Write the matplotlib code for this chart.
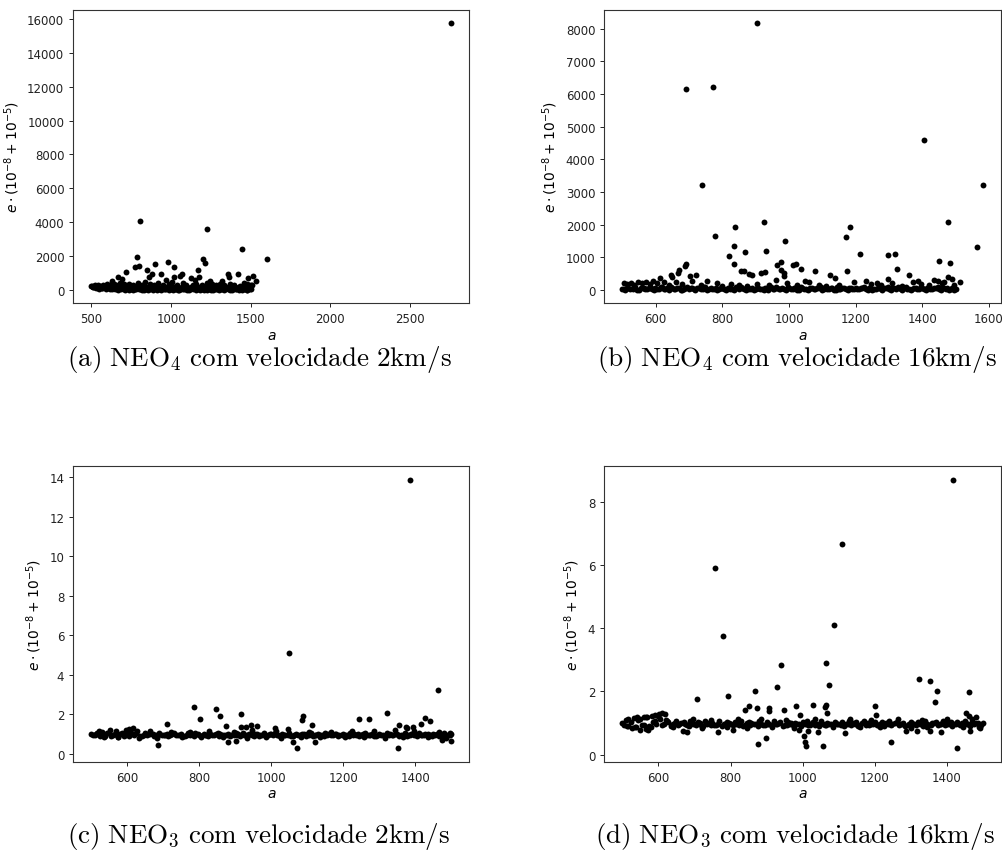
import matplotlib.pyplot as plt

# semi-major axis grids shared by the dense band of every run
a_band = [500, 509, 517, 531, 538, 549, 561, 568, 579, 590,
          598, 611, 619, 628, 641, 650, 657, 670, 679, 688,
          701, 709, 718, 730, 741, 748, 760, 769, 781, 789,
          800, 812, 819, 829, 840, 851, 858, 871, 880, 889,
          901, 908, 920, 929, 938, 951, 960, 969, 979, 991,
          1000, 1011, 1019, 1030, 1039, 1050, 1061, 1068, 1079, 1091,
          1099, 1110, 1120, 1129, 1141, 1149, 1158, 1171, 1180, 1189,
          1200, 1210, 1219, 1231, 1240, 1248, 1261, 1270, 1279, 1291,
          1300, 1309, 1320, 1331, 1339, 1350, 1359, 1370, 1381, 1389,
          1400, 1411, 1419, 1428, 1441, 1450, 1459, 1470, 1479, 1490,
          1500]
a_band2 = [505, 513, 524, 534, 544, 555, 565, 574, 585, 594,
           604, 615, 624, 635, 646, 654, 664, 675, 684, 695,
           705, 714, 724, 736, 745, 754, 765, 775, 785, 795,
           806, 816, 824, 835, 846, 855, 865, 876, 885, 895,
           905, 914, 925, 934, 945, 956, 965, 974, 985, 996,
           1006, 1015, 1025, 1035, 1045, 1056, 1064, 1074, 1085, 1095,
           1105, 1115, 1125, 1135, 1145, 1154, 1165, 1176, 1185, 1195,
           1205, 1215, 1226, 1236, 1244, 1255, 1266, 1275, 1285, 1296,
           1305, 1315, 1326, 1335, 1345, 1355, 1365, 1376, 1385, 1395,
           1406, 1415, 1424, 1435, 1446, 1455, 1465, 1475, 1485, 1495]

# (a) NEO4, 2 km/s
neo4_2_band = [230, 180, 245, 120, 210, 60, 190, 150, 240, 90,
               200, 130, 170, 40, 220, 110, 150, 20, 190, 80,
               160, 30, 140, 200, 60, 120, 10, 180, 90, 150,
               40, 130, 170, 20, 110, 60, 190, 80, 140, 30,
               100, 170, 50, 130, 10, 160, 90, 40, 150, 70,
               120, 20, 180, 60, 140, 30, 100, 170, 50, 110,
               10, 150, 80, 130, 40, 190, 60, 120, 20, 160,
               90, 30, 140, 70, 180, 10, 110, 50, 150, 80,
               20, 130, 60, 170, 40, 100, 150, 30, 120, 70,
               160, 40, 110, 20, 180, 90, 50, 140, 30, 100,
               60]
neo4_2_band2 = [250, 200, 160, 260, 140, 230, 100, 210, 170, 120,
                230, 60, 180, 250, 90, 200, 40, 170, 120, 210,
                70, 190, 110, 30, 170, 80, 220, 50, 130, 190,
                90, 10, 160, 70, 200, 30, 120, 180, 60, 110,
                190, 30, 140, 80, 210, 40, 120, 170, 20, 130,
                60, 160, 90, 200, 20, 150, 70, 40, 180, 90,
                140, 30, 200, 100, 160, 20, 130, 80, 180, 50,
                120, 200, 20, 160, 60, 130, 30, 190, 70, 140,
                180, 40, 110, 20, 190, 60, 150, 90, 10, 170,
                50, 130, 200, 80, 30, 150, 110, 20, 170, 60]
neo4_2_a = [2759, 804, 1226, 1443, 1602, 787, 1203, 1214, 771, 801,
            979, 899, 1018, 1169, 718, 848, 880, 939, 666, 692,
            860, 630, 1020, 1056, 1066, 1123, 1148, 1174, 1317, 1356,
            1364, 1419, 1482, 1514, 1533, 966, 1245, 1476,
            520, 545, 575, 600, 615, 640, 655, 680, 705, 735,
            760, 790, 815, 835, 870, 895, 920, 950, 985, 1005,
            1035, 1075, 1095, 1135, 1160, 1195, 1225, 1255, 1285, 1305,
            1335, 1370, 1395, 1430, 1455, 1490, 1505, 1510]
neo4_2_e = [15750, 4090, 3580, 2450, 1840, 1940, 1840, 1600, 1350, 1450,
            1660, 1530, 1350, 1190, 1040, 1190, 940, 955, 760, 650,
            760, 530, 760, 840, 940, 690, 570, 760, 510, 940,
            800, 940, 700, 860, 530, 570, 510, 350,
            280, 300, 320, 350, 280, 380, 300, 420, 330, 380,
            290, 400, 310, 450, 330, 280, 420, 310, 380, 460,
            300, 400, 320, 280, 360, 300, 410, 330, 300, 380,
            290, 340, 310, 270, 400, 320, 300, 280]

# (b) NEO4, 16 km/s
neo4_16_band = [40, 10, 60, 25, 80, 5, 50, 30, 70, 15,
                55, 20, 75, 35, 0, 65, 25, 45, 10, 60,
                30, 70, 5, 50, 20, 80, 40, 15, 60, 25,
                45, 10, 65, 30, 75, 20, 55, 0, 35, 70,
                15, 50, 25, 60, 5, 40, 80, 30, 55, 10,
                65, 20, 45, 0, 70, 35, 15, 60, 25, 50,
                5, 75, 30, 55, 10, 40, 65, 20, 50, 35,
                70, 15, 45, 25, 60, 0, 35, 80, 10, 55,
                30, 65, 20, 50, 5, 75, 40, 15, 60, 25,
                45, 10, 70, 35, 55, 20, 80, 30, 5, 50,
                20]
neo4_16_band2 = [20, 60, 35, 80, 10, 45, 70, 25, 55, 5,
                 35, 75, 15, 50, 85, 30, 60, 5, 40, 75,
                 50, 15, 65, 30, 90, 10, 55, 35, 5, 45,
                 20, 60, 40, 5, 50, 85, 15, 65, 30, 10,
                 70, 35, 5, 45, 80, 15, 60, 25, 40, 85,
                 30, 55, 10, 75, 40, 5, 65, 25, 45, 80,
                 35, 15, 60, 0, 85, 25, 50, 10, 70, 40,
                 20, 55, 85, 5, 45, 30, 65, 15, 50, 75,
                 10, 45, 80, 35, 60, 20, 0, 70, 40, 85,
                 25, 60, 15, 50, 80, 5, 45, 65, 25, 10]
neo4_16_a = [903, 692, 771, 740, 1405, 1582, 1565, 925, 839, 778,
             834, 932, 987, 868, 819, 834, 1184, 1172, 1212, 1298,
             1318, 1323, 1477, 1450, 1484, 1512, 1173, 1078, 1122, 1139,
             1035, 1012, 1021, 965, 975, 975, 986, 985, 917, 927,
             880, 855, 865, 890, 692, 688, 650, 645, 666, 670,
             703, 721, 505, 614, 1360, 1388, 1296, 1478, 1446, 1466,
             1488, 1245, 1060, 1048,
             515, 525, 535, 548, 558, 570, 582, 592, 605, 625,
             640, 660, 680, 710, 735, 755, 785, 800, 825, 850,
             875, 905, 940, 960, 995, 1025, 1090, 1110, 1150, 1195,
             1230, 1265, 1275, 1310, 1340, 1372, 1395, 1420, 1435, 1460,
             1495]
neo4_16_e = [8170, 6150, 6200, 3220, 4580, 3220, 1320, 2070, 1920, 1665,
             1340, 1180, 1490, 1150, 1035, 790, 1930, 1615, 1105, 1055,
             1105, 640, 2070, 870, 820, 230, 590, 590, 470, 355,
             640, 750, 800, 770, 855, 610, 510, 440, 520, 540,
             500, 580, 580, 470, 790, 740, 405, 450, 530, 600,
             430, 450, 200, 380, 450, 280, 340, 410, 260, 230,
             330, 170, 250, 280,
             180, 220, 150, 230, 200, 240, 170, 260, 200, 230,
             140, 250, 190, 280, 150, 260, 200, 130, 170, 140,
             120, 180, 150, 300, 220, 160, 140, 120, 160, 250,
             280, 220, 150, 200, 130, 240, 180, 150, 300, 200,
             140]

# (c) NEO3, 2 km/s
neo3_2_band = [1.00, 0.97, 1.05, 1.12, 0.92, 1.08, 0.95, 1.15, 1.02, 0.90,
               1.10, 1.04, 0.96, 1.18, 0.93, 1.06, 0.99, 1.03, 0.94, 1.07,
               0.98, 1.02, 0.95, 1.05, 0.97, 1.01, 0.93, 1.04, 0.99, 1.06,
               0.96, 1.03, 0.98, 1.00, 0.94, 1.05, 1.01, 0.97, 1.02, 0.95,
               1.04, 0.99, 1.06, 0.97, 1.01, 0.93, 1.03, 0.98, 1.05, 0.96,
               1.00, 1.07, 0.94, 1.02, 0.98, 1.04, 0.92, 1.01, 0.97, 1.03,
               0.99, 1.05, 0.95, 1.02, 0.97, 1.06, 1.00, 0.94, 1.03, 0.98,
               1.01, 0.96, 1.04, 0.99, 1.02, 0.95, 1.06, 0.98, 1.00, 0.93,
               1.03, 0.97, 1.05, 1.00, 0.94, 1.02, 0.98, 1.04, 0.96, 1.01,
               0.99, 1.05, 0.97, 1.02, 0.95, 1.03, 1.00, 0.96, 1.04, 0.98,
               1.00]
neo3_2_band2 = [0.94, 1.02, 0.90, 0.98, 1.06, 0.92, 1.00, 0.88, 1.04, 0.96,
                0.93, 0.99, 1.08, 0.91, 0.97, 0.95, 1.01, 0.92, 0.98, 0.94,
                0.96, 0.91, 1.00, 0.94, 0.98, 0.92, 0.97, 0.95, 0.90, 0.99,
                0.93, 0.97, 0.91, 0.96, 1.00, 0.92, 0.95, 0.98, 0.93, 0.97,
                0.95, 0.92, 0.98, 0.94, 0.96, 1.00, 0.91, 0.97, 0.93, 0.99,
                0.94, 0.96, 0.92, 0.98, 0.95, 0.90, 0.97, 0.94, 0.99, 0.93,
                0.96, 0.92, 0.98, 0.95, 0.91, 0.97, 0.94, 1.00, 0.93, 0.96,
                0.98, 0.92, 0.95, 0.97, 0.91, 0.99, 0.94, 0.96, 0.93, 0.98,
                0.95, 0.91, 0.97, 0.94, 0.99, 0.92, 0.96, 0.93, 0.98, 0.95,
                0.92, 0.97, 0.94, 0.99, 0.93, 0.96, 0.91, 0.98, 0.95, 0.97]
neo3_2_a = [1385, 1048, 1462, 784, 801, 845, 857, 874, 916, 915,
            710, 1088, 1085, 1113, 1244, 1271, 1322, 1354, 1416, 1426,
            1440, 1393, 944, 930, 685, 880, 903, 1059, 1070, 1121,
            1351, 1475, 1498, 960, 1010, 1375,
            520, 535, 552, 575, 596, 605, 615, 633, 662, 683,
            722, 752, 775, 806, 826, 866, 895, 933, 947, 985,
            1012, 1026, 1045, 1083, 1104, 1136, 1166, 1205, 1225, 1258,
            1286, 1316, 1344, 1366, 1376, 1396, 1435, 1466, 1486, 1495]
neo3_2_e = [13.87, 5.11, 3.24, 2.36, 1.75, 2.28, 1.92, 1.43, 2.00, 1.35,
            1.52, 1.90, 1.70, 1.45, 1.75, 1.75, 2.06, 1.45, 1.50, 1.82,
            1.65, 1.35, 1.45, 1.38, 0.46, 0.62, 0.65, 0.63, 0.29, 0.63,
            0.29, 0.71, 0.65, 1.42, 1.30, 1.35,
            1.15, 0.85, 1.22, 0.88, 1.20, 1.28, 1.30, 0.82, 1.18, 0.80,
            1.12, 0.84, 1.10, 0.86, 1.14, 0.88, 1.12, 0.83, 1.20, 0.87,
            1.15, 0.80, 1.25, 0.85, 1.10, 0.88, 1.12, 0.84, 1.18, 0.86,
            1.14, 0.82, 1.22, 0.88, 1.30, 1.15, 0.85, 1.12, 0.80, 1.08]

# (d) NEO3, 16 km/s
neo3_16_band = [1.00, 1.08, 0.92, 1.15, 0.88, 1.12, 0.95, 1.18, 0.86, 1.05,
                1.22, 0.93, 1.28, 1.02, 0.96, 1.06, 0.98, 1.03, 0.94, 1.07,
                0.97, 1.04, 0.95, 1.06, 0.99, 1.01, 0.94, 1.05, 0.98, 1.03,
                0.96, 1.02, 0.99, 1.05, 0.93, 1.04, 1.00, 0.97, 1.06, 0.95,
                1.03, 0.98, 1.05, 0.96, 1.02, 0.94, 1.04, 0.99, 1.01, 0.97,
                1.02, 1.06, 0.95, 1.03, 0.98, 1.05, 0.93, 1.00, 0.97, 1.04,
                0.98, 1.03, 0.96, 1.05, 0.99, 1.02, 0.94, 1.06, 1.00, 0.97,
                1.04, 0.95, 1.02, 0.99, 1.05, 0.96, 1.03, 0.98, 1.01, 0.94,
                1.02, 0.97, 1.04, 0.99, 1.06, 0.95, 1.01, 1.03, 0.97, 1.05,
                0.98, 1.04, 0.96, 1.02, 0.99, 1.05, 0.97, 1.03, 1.00, 0.95,
                1.01]
neo3_16_band2 = [0.95, 0.90, 1.04, 0.86, 1.10, 0.93, 1.20, 0.89, 1.02, 0.96,
                 1.14, 0.97, 1.06, 0.92, 0.99, 0.94, 1.01, 0.96, 0.91, 0.98,
                 0.94, 0.99, 0.92, 0.97, 0.95, 0.93, 0.98, 0.91, 0.96, 1.00,
                 0.93, 0.97, 0.95, 0.92, 0.99, 0.94, 0.96, 0.91, 0.98, 0.95,
                 0.97, 0.93, 0.96, 1.00, 0.92, 0.95, 0.98, 0.94, 0.97, 0.91,
                 0.96, 0.93, 0.99, 0.95, 0.92, 0.97, 0.94, 0.98, 0.93, 0.96,
                 0.95, 0.91, 0.98, 0.94, 0.96, 0.92, 0.99, 0.95, 0.93, 0.97,
                 0.94, 0.98, 0.92, 0.96, 0.95, 0.99, 0.93, 0.97, 0.91, 0.96,
                 0.98, 0.94, 0.96, 0.92, 0.97, 0.95, 0.99, 0.93, 0.96, 0.94,
                 0.97, 0.92, 0.98, 0.95, 0.93, 0.97, 0.91, 0.96, 0.99, 0.94]
neo3_16_a = [1416, 1108, 757, 779, 1088, 941, 1066, 1072, 930, 869,
             794, 706, 1322, 1354, 1373, 1368, 1462, 1200, 1203, 981,
             1028, 1063, 1066, 851, 840, 873, 908, 908, 947, 993,
             1067, 1453, 1460, 1480, 603, 876, 897, 1004, 1006, 1010,
             1057, 1245, 1427, 1014, 1043, 1117, 765, 807, 678, 548,
             1384, 1353, 1465, 1493, 1286, 989, 667, 572, 1316, 590,
             610, 560,
             515, 528, 542, 565, 582, 622, 640, 695, 720, 745,
             790, 820, 845, 885, 915, 955, 975, 1035, 1085, 1130,
             1160, 1190, 1215, 1265, 1300, 1330, 1345, 1400, 1445, 1470,
             1488]
neo3_16_e = [8.71, 6.66, 5.92, 3.77, 4.12, 2.85, 2.91, 2.20, 2.13, 2.02,
             1.84, 1.77, 2.38, 2.33, 2.00, 1.67, 1.97, 1.53, 1.25, 1.55,
             1.57, 1.50, 1.56, 1.55, 1.42, 1.49, 1.49, 1.38, 1.42, 1.25,
             1.32, 1.32, 1.22, 1.20, 1.30, 0.35, 0.52, 0.60, 0.41, 0.26,
             0.28, 0.39, 0.20, 0.75, 0.73, 0.68, 0.70, 0.77, 0.73, 0.77,
             0.72, 0.76, 0.74, 0.85, 0.75, 0.77, 0.75, 0.78, 0.74, 1.25,
             1.32, 1.20,
             1.12, 0.85, 1.18, 0.82, 1.22, 1.10, 0.88, 1.12, 0.84, 1.10,
             0.86, 1.14, 0.84, 1.12, 0.86, 1.10, 0.85, 1.14, 0.88, 1.12,
             0.86, 1.10, 0.87, 1.12, 0.85, 1.10, 0.87, 1.14, 0.86, 1.12,
             0.88]

captions = [r"$\mathrm{(a)\ NEO_4\ com\ velocidade\ 2km/s}$",
            r"$\mathrm{(b)\ NEO_4\ com\ velocidade\ 16km/s}$",
            r"$\mathrm{(c)\ NEO_3\ com\ velocidade\ 2km/s}$",
            r"$\mathrm{(d)\ NEO_3\ com\ velocidade\ 16km/s}$"]

fig = plt.figure(figsize=(10.03, 8.53), dpi=100)

panels = [
    ([0.0731, 0.6433, 0.3948, 0.3442], neo4_2_band, neo4_2_band2, neo4_2_a, neo4_2_e),
    ([0.6025, 0.6433, 0.3955, 0.3442], neo4_16_band, neo4_16_band2, neo4_16_a, neo4_16_e),
    ([0.0731, 0.1059, 0.3948, 0.3463], neo3_2_band, neo3_2_band2, neo3_2_a, neo3_2_e),
    ([0.6025, 0.1059, 0.3955, 0.3463], neo3_16_band, neo3_16_band2, neo3_16_a, neo3_16_e),
]

for rect, band, band2, xa, ye in panels:
    ax = fig.add_axes(rect)
    ax.scatter(a_band, band, s=18, c='k', linewidths=0)
    ax.scatter(a_band2, band2, s=18, c='k', linewidths=0)
    ax.scatter(xa, ye, s=18, c='k', linewidths=0)
    ax.set_xlabel(r"$a$", fontsize=10, labelpad=2)
    ax.set_ylabel(r"$e \cdot (10^{-8} + 10^{-5})$", fontsize=10)
    ax.tick_params(labelsize=8.5, colors='#222222', length=3, width=0.7)
    for sp in ax.spines.values():
        sp.set_linewidth(0.8)
        sp.set_color('#333333')

cap_pos = [(0.259, 0.578), (0.795, 0.578), (0.258, 0.019), (0.793, 0.019)]
for (cx, cy), txt in zip(cap_pos, captions):
    fig.text(cx, cy, txt, ha='center', va='center', fontsize=19.5,
             math_fontfamily='cm')

fig.savefig("out.png", dpi=100)
